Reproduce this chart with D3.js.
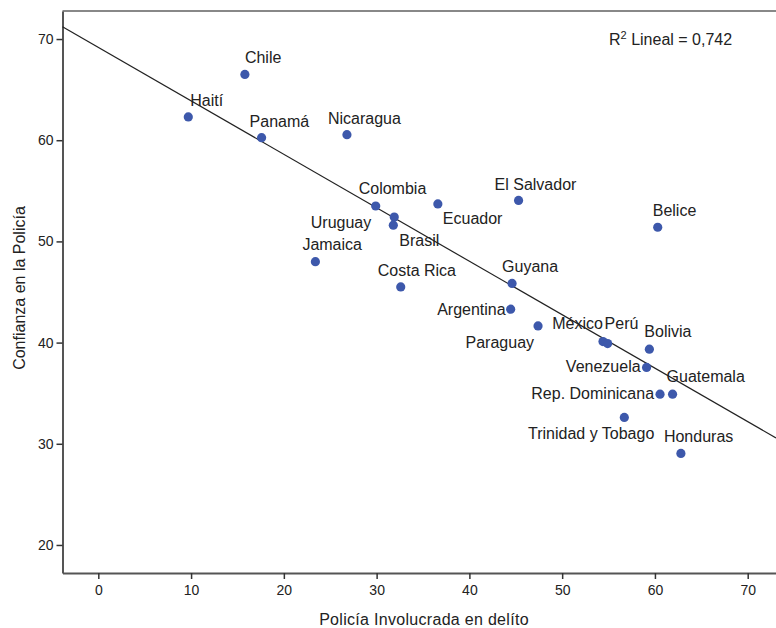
<!DOCTYPE html>
<html><head><meta charset="utf-8">
<script src="https://cdn.jsdelivr.net/npm/d3@7"></script>
<style>body{margin:0;background:#fff;} text{font-family:"Liberation Sans",Arial,sans-serif;fill:#222;}</style>
</head><body>
<svg id="chart" width="776" height="628"></svg>
<script>
const countries = ["Haití","Chile","Panamá","Nicaragua","Colombia","Ecuador","El Salvador","Uruguay","Brasil","Jamaica","Costa Rica","Guyana","Belice","Argentina","Paraguay","México","Perú","Bolivia","Venezuela","Rep. Dominicana","Guatemala","Trinidad y Tobago","Honduras"];
const policeCrime = [9.7,15.8,17.6,26.8,29.9,36.6,45.3,31.9,31.8,23.4,32.6,44.6,60.3,44.45,47.4,54.4,54.9,59.4,59.1,60.55,61.9,56.7,62.8];
const policeTrust = [62.3,66.5,60.25,60.55,53.5,53.7,54.05,52.4,51.6,48.0,45.5,45.85,51.4,43.3,41.65,40.1,39.9,39.35,37.55,34.9,34.9,32.6,29.05];
const xTicks = [0,10,20,30,40,50,60,70];
const yTicks = [20,30,40,50,60,70];
const fitIntercept = 69.18, fitSlope = -0.5285, rSquared = "0,742";
const xTitle = "Policía Involucrada en delíto";
const yTitle = "Confianza en la Policía";

// label placement (layout only)
const labelPos = {
 "Haití":[2,-11,"start"],"Chile":[0,-11,"start"],"Panamá":[-12,-11,"start"],"Nicaragua":[-19,-11,"start"],
 "Colombia":[-17,-12,"start"],"Ecuador":[5,20,"start"],"El Salvador":[-24,-10,"start"],"Uruguay":[-23,11,"end"],
 "Brasil":[6,21,"start"],"Jamaica":[-13,-12,"start"],"Costa Rica":[-23,-11,"start"],"Guyana":[-10,-11,"start"],
 "Belice":[-5,-11,"start"],"Argentina":[-5,6,"end"],"Paraguay":[-4,22,"end"],"México":[0,-13,"end"],
 "Perú":[-3,-15,"start"],"Bolivia":[-5,-12,"start"],"Venezuela":[-6,5,"end"],"Rep. Dominicana":[-6,5,"end"],
 "Guatemala":[-6,-12,"start"],"Trinidad y Tobago":[30,22,"end"],"Honduras":[-17,-11,"start"]
};

const svg = d3.select("#chart");
const L=62.5, R=776, T=11, B=573;
const x = d3.scaleLinear().domain([-3.86,73.05]).range([L,R]);
const y = d3.scaleLinear().domain([17.23,72.77]).range([B,T]);

const axisColor="#555";
svg.append("line").attr("x1",L).attr("x2",R).attr("y1",T).attr("y2",T).attr("stroke","#888").attr("stroke-width",2);

const gx = svg.append("g").attr("transform",`translate(0,${B})`)
  .call(d3.axisBottom(x).tickValues(xTicks).tickSize(6).tickPadding(6).tickSizeOuter(0));
const gy = svg.append("g").attr("transform",`translate(${L},0)`)
  .call(d3.axisLeft(y).tickValues(yTicks).tickSize(6).tickPadding(3).tickSizeOuter(0));
[gx,gy].forEach(g=>{
  g.select(".domain").attr("stroke",axisColor).attr("stroke-width",2);
  g.selectAll(".tick line").attr("stroke","#333").attr("stroke-width",1.5);
  g.selectAll(".tick text").style("font-family","'Liberation Sans',Arial,sans-serif").style("font-size","14px").attr("fill","#222");
});

const xd = x.domain();
svg.append("line")
  .attr("x1",x(xd[0])).attr("y1",y(fitIntercept+fitSlope*xd[0]))
  .attr("x2",x(xd[1])).attr("y2",y(fitIntercept+fitSlope*xd[1]))
  .attr("stroke","#222").attr("stroke-width",1.2);

const pts = countries.map((c,i)=>({name:c,x:policeCrime[i],y:policeTrust[i]}));
svg.append("g").selectAll("circle").data(pts).join("circle")
  .attr("cx",d=>x(d.x)).attr("cy",d=>y(d.y)).attr("r",4.6).attr("fill","#3d58ab");

svg.append("g").selectAll("text").data(pts).join("text")
  .attr("x",d=>x(d.x)+labelPos[d.name][0]).attr("y",d=>y(d.y)+labelPos[d.name][1])
  .attr("text-anchor",d=>labelPos[d.name][2]).style("font-size","16px").text(d=>d.name);

const r2 = svg.append("text").attr("x",609).attr("y",45).style("font-size","16px");
r2.append("tspan").text("R");
r2.append("tspan").attr("dy",-6).style("font-size","11px").text("2");
r2.append("tspan").attr("dy",6).text(" Lineal = "+rSquared);

svg.append("text").attr("x",424).attr("y",625).attr("text-anchor","middle").style("font-size","16px").style("letter-spacing","0.3px").text(xTitle);
svg.append("text").attr("transform","translate(25,288) rotate(-90)").attr("text-anchor","middle").style("font-size","16px").text(yTitle);
</script>
</body></html>
